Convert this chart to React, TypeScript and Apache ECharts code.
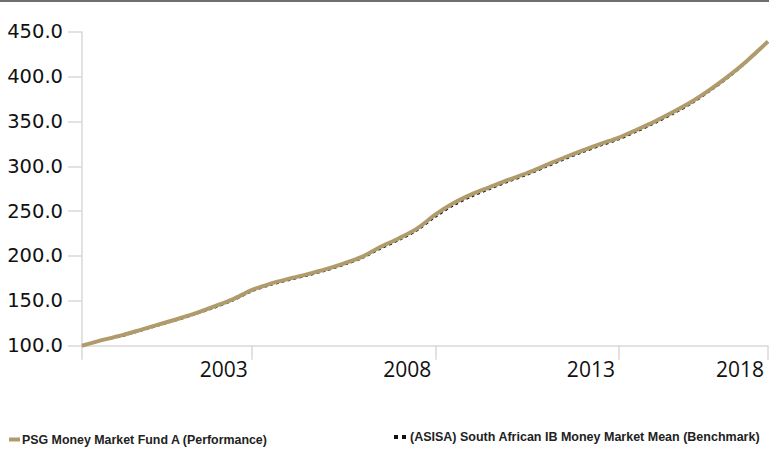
import React, { useEffect, useRef } from "react";
import * as echarts from "echarts";

const years = [1998.38, 1999.0, 1999.5, 2000.0, 2000.5, 2001.0, 2001.5, 2002.0, 2002.5, 2003.0, 2003.5, 2004.0, 2004.5, 2005.0, 2005.5, 2006.0, 2006.5, 2007.0, 2007.5, 2008.0, 2008.5, 2009.0, 2009.5, 2010.0, 2010.5, 2011.0, 2011.5, 2012.0, 2012.5, 2013.0, 2013.5, 2014.0, 2014.5, 2015.0, 2015.5, 2016.0, 2016.5, 2017.06];

const performance = [100, 107, 112, 118, 124, 130, 136.5, 144, 152, 162, 169, 174.5, 179.5, 185, 191.5, 199, 210, 219.5, 230.5, 246, 259, 269, 277, 285, 292.5, 301, 309.5, 317.5, 325, 332, 341, 350.5, 361, 372.5, 386, 401, 418, 439];

const benchmark = [100, 106.5, 111, 117, 123, 129, 135.5, 142.5, 150.5, 160.5, 167.5, 173, 178, 183.5, 190, 197.5, 208, 217.5, 228.5, 243.5, 256.5, 266.5, 275, 283, 290.5, 299, 307.5, 315.5, 323, 330, 339, 348.5, 359, 370.5, 384.5, 399.5, 417, 438.5];

const xTickValues = [1998.38, 2003, 2008, 2013, 2017.06];
const xLabelValues = [2003, 2008, 2013, 2017.06];
const xLabelTexts = ["2003", "2008", "2013", "2018"];

const seriesNames = [
  "PSG Money Market Fund A (Performance)",
  "(ASISA) South African IB Money Market Mean (Benchmark)",
];

export default function App() {
  const ref = useRef<HTMLDivElement>(null);
  useEffect(() => {
    if (!ref.current) return;
    const chart = echarts.init(ref.current, undefined, { renderer: "svg" });
    const perfData = years.map((y, i) => [y, performance[i]]);
    const benchData = years.map((y, i) => [y, benchmark[i]]);
    chart.setOption({
      animation: false,
      backgroundColor: "#ffffff",
      graphic: [
        {
          type: "rect",
          left: 0,
          top: 0,
          shape: { width: 769, height: 2 },
          style: { fill: "#6d6f72" },
        },
      ],
      grid: { left: 82, right: 1, top: 31.7, bottom: 104.3, containLabel: false },
      legend: [
        {
          left: 9,
          top: 433.5,
          padding: 0,
          itemWidth: 11,
          itemHeight: 4,
          itemGap: 0,
          textStyle: { fontFamily: "Liberation Sans", fontWeight: "bold", fontSize: 12.4, color: "#222", padding: [0, 0, 0, -3] },
          data: [{ name: seriesNames[0], icon: "rect" }],
        },
        {
          left: 394,
          top: 430.5,
          padding: 0,
          itemWidth: 12,
          itemHeight: 4,
          itemGap: 0,
          textStyle: { fontFamily: "Liberation Sans", fontWeight: "bold", fontSize: 12.5, color: "#222", padding: [0, 0, 0, -1] },
          data: [{ name: seriesNames[1], icon: "path://M0,0h4v4h-4z M8,0h4v4h-4z" }],
        },
      ],
      xAxis: {
        type: "value",
        min: 1998.38,
        max: 2017.06,
        axisLine: { show: true, lineStyle: { color: "#d9d9d9", width: 1.5 } },
        axisTick: {
          show: true,
          customValues: xTickValues,
          length: 14,
          lineStyle: { color: "#d9d9d9", width: 1.5 },
        },
        axisLabel: {
          customValues: xLabelValues,
          formatter: (v: number) => {
            const idx = xLabelValues.findIndex((x) => Math.abs(x - v) < 0.01);
            return idx >= 0 ? xLabelTexts[idx] : "";
          },
          align: "right",
          padding: [0, 4, 0, 0],
          margin: 13,
          fontFamily: "Open Sans",
          fontSize: 21,
          color: "#111",
        },
        splitLine: { show: false },
      },
      yAxis: {
        type: "value",
        min: 100,
        max: 450,
        interval: 50,
        axisLine: { show: true, lineStyle: { color: "#d9d9d9", width: 1.5 } },
        axisTick: { show: true, length: 14, lineStyle: { color: "#d9d9d9", width: 1.5 } },
        axisLabel: {
          formatter: (v: number) => v.toFixed(1),
          margin: 19,
          fontFamily: "DejaVu Sans",
          fontSize: 19.5,
          color: "#111",
        },
        splitLine: { show: false },
      },
      series: [
        {
          name: seriesNames[1],
          type: "line",
          data: benchData,
          smooth: 0.3,
          showSymbol: false,
          z: 2,
          itemStyle: { color: "#111111" },
          lineStyle: { color: "#111111", width: 2, type: [3, 3] },
        },
        {
          name: seriesNames[0],
          type: "line",
          data: perfData,
          smooth: 0.3,
          showSymbol: false,
          z: 3,
          itemStyle: { color: "#b09b6c" },
          lineStyle: { color: "#b09b6c", width: 4 },
        },
      ],
    });
    return () => chart.dispose();
  }, []);
  return (
    <div
      ref={ref}
      style={{ position: "fixed", left: 0, top: 0, width: 769, height: 450 }}
    />
  );
}
